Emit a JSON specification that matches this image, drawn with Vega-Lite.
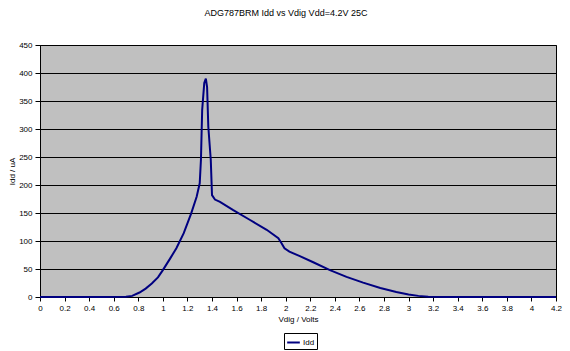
{
  "$schema": "https://vega.github.io/schema/vega-lite/v6.json",
  "width": 516,
  "height": 252,
  "autosize": "none",
  "padding": {"left": 40, "top": 45, "right": 14, "bottom": 54},
  "background": "white",
  "config": {
    "font": "Liberation Sans",
    "view": {"fill": "#C0C0C0", "stroke": "black", "strokeWidth": 1},
    "axis": {"labelFont": "Liberation Sans", "titleFont": "Liberation Sans", "labelFontSize": 8, "titleFontSize": 8, "titleFontWeight": "normal", "labelColor": "black", "titleColor": "black", "domainColor": "black", "tickColor": "black", "gridColor": "black", "gridOpacity": 1}
  },
  "title": {"text": "ADG787BRM Idd vs Vdig Vdd=4.2V 25C", "font": "Liberation Sans", "fontSize": 9, "fontWeight": "normal", "color": "black", "anchor": "middle", "offset": 23, "dx": -12},
  "data": {"values": [
    {"v": 0, "i": 0, "s": "Idd"},
    {"v": 0.5, "i": 0, "s": "Idd"},
    {"v": 0.7, "i": 0.3, "s": "Idd"},
    {"v": 0.75, "i": 2, "s": "Idd"},
    {"v": 0.81, "i": 8, "s": "Idd"},
    {"v": 0.86, "i": 15, "s": "Idd"},
    {"v": 0.91, "i": 24, "s": "Idd"},
    {"v": 0.96, "i": 35, "s": "Idd"},
    {"v": 1.0, "i": 48, "s": "Idd"},
    {"v": 1.06, "i": 69, "s": "Idd"},
    {"v": 1.11, "i": 87, "s": "Idd"},
    {"v": 1.17, "i": 114, "s": "Idd"},
    {"v": 1.23, "i": 149, "s": "Idd"},
    {"v": 1.275, "i": 179, "s": "Idd"},
    {"v": 1.3, "i": 203, "s": "Idd"},
    {"v": 1.31, "i": 245, "s": "Idd"},
    {"v": 1.32, "i": 334, "s": "Idd"},
    {"v": 1.337, "i": 382, "s": "Idd"},
    {"v": 1.35, "i": 390, "s": "Idd"},
    {"v": 1.36, "i": 375, "s": "Idd"},
    {"v": 1.37, "i": 304, "s": "Idd"},
    {"v": 1.39, "i": 245, "s": "Idd"},
    {"v": 1.4, "i": 182, "s": "Idd"},
    {"v": 1.424, "i": 174, "s": "Idd"},
    {"v": 1.465, "i": 170, "s": "Idd"},
    {"v": 1.573, "i": 155, "s": "Idd"},
    {"v": 1.71, "i": 137.5, "s": "Idd"},
    {"v": 1.845, "i": 120, "s": "Idd"},
    {"v": 1.94, "i": 105, "s": "Idd"},
    {"v": 1.966, "i": 96, "s": "Idd"},
    {"v": 1.99, "i": 87, "s": "Idd"},
    {"v": 2.03, "i": 81, "s": "Idd"},
    {"v": 2.115, "i": 73, "s": "Idd"},
    {"v": 2.224, "i": 62, "s": "Idd"},
    {"v": 2.36, "i": 48, "s": "Idd"},
    {"v": 2.495, "i": 36, "s": "Idd"},
    {"v": 2.63, "i": 25.6, "s": "Idd"},
    {"v": 2.77, "i": 16, "s": "Idd"},
    {"v": 2.9, "i": 9, "s": "Idd"},
    {"v": 3.0, "i": 4.5, "s": "Idd"},
    {"v": 3.08, "i": 2, "s": "Idd"},
    {"v": 3.16, "i": 0.6, "s": "Idd"},
    {"v": 3.3, "i": 0, "s": "Idd"},
    {"v": 4.2, "i": 0, "s": "Idd"}
  ]},
  "mark": {"type": "line", "strokeWidth": 2},
  "encoding": {
    "x": {"field": "v", "type": "quantitative", "scale": {"domain": [0, 4.2], "nice": false, "zero": false},
      "axis": {"title": "Vdig / Volts", "values": [0,0.2,0.4,0.6,0.8,1,1.2,1.4,1.6,1.8,2,2.2,2.4,2.6,2.8,3,3.2,3.4,3.6,3.8,4,4.2], "format": "~g", "grid": false, "tickSize": 4, "labelPadding": 3, "titlePadding": 3, "labelFlush": false}},
    "y": {"field": "i", "type": "quantitative", "scale": {"domain": [0, 450], "nice": false},
      "axis": {"title": "Idd / uA", "values": [0,50,100,150,200,250,300,350,400,450], "grid": true, "tickSize": 5, "labelPadding": 3, "titlePadding": 2}},
    "color": {"field": "s", "type": "nominal", "scale": {"range": ["#000080"]},
      "legend": {"title": null, "orient": "none", "legendX": 244, "legendY": 288, "direction": "horizontal", "symbolType": "stroke", "symbolStrokeWidth": 2, "symbolSize": 160, "labelOffset": 2, "labelFontSize": 8, "labelFont": "Liberation Sans", "labelColor": "black", "strokeColor": "black", "padding": 2}}
  }
}
